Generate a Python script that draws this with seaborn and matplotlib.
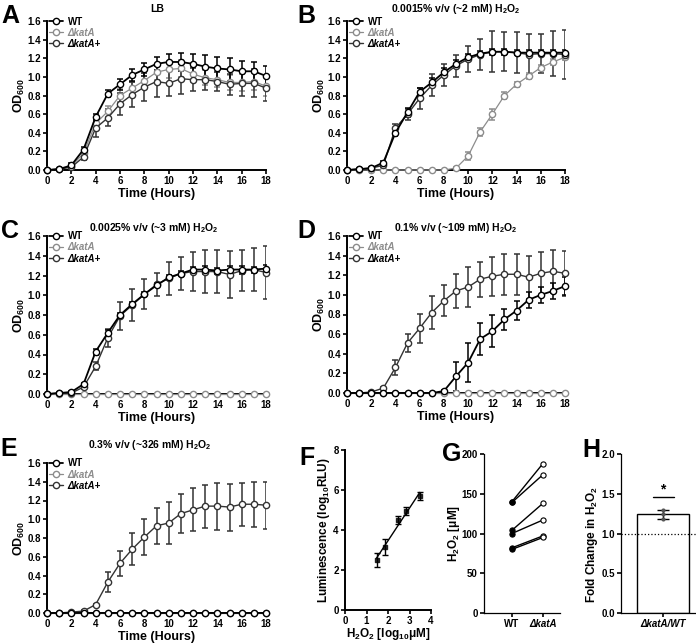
import numpy as np
import pandas as pd
import matplotlib
matplotlib.use("Agg")
import matplotlib.pyplot as plt
import seaborn as sns

# ---- data ----
hours = [0, 1, 2, 3, 4, 5, 6, 7, 8, 9, 10, 11, 12, 13, 14, 15, 16, 17, 18]

# A: LB
lb_wt = [0.00, 0.01, 0.05, 0.22, 0.57, 0.82, 0.92, 1.02, 1.08, 1.14, 1.16, 1.16, 1.14, 1.11, 1.09, 1.08, 1.06, 1.06, 1.01]
lb_wt_sem = [0.00, 0.01, 0.02, 0.03, 0.03, 0.04, 0.06, 0.06, 0.07, 0.07, 0.09, 0.10, 0.11, 0.12, 0.12, 0.12, 0.11, 0.10, 0.11]
lb_ka = [0.00, 0.01, 0.04, 0.18, 0.50, 0.63, 0.80, 0.88, 0.96, 1.05, 1.08, 1.09, 1.03, 0.99, 0.97, 0.94, 0.94, 0.95, 0.90]
lb_ka_sem = [0.00, 0.01, 0.01, 0.03, 0.05, 0.06, 0.07, 0.07, 0.08, 0.08, 0.09, 0.09, 0.08, 0.08, 0.08, 0.08, 0.09, 0.09, 0.10]
lb_kp = [0.00, 0.01, 0.03, 0.14, 0.45, 0.56, 0.71, 0.81, 0.89, 0.95, 0.93, 0.98, 0.97, 0.97, 0.95, 0.92, 0.93, 0.93, 0.88]
lb_kp_sem = [0.00, 0.01, 0.01, 0.03, 0.10, 0.09, 0.12, 0.13, 0.15, 0.17, 0.14, 0.16, 0.12, 0.11, 0.10, 0.11, 0.13, 0.15, 0.14]

# B: 2 mM
b_wt = [0.00, 0.01, 0.02, 0.08, 0.40, 0.62, 0.84, 0.94, 1.05, 1.14, 1.21, 1.25, 1.27, 1.27, 1.26, 1.26, 1.26, 1.26, 1.26]
b_wt_sem = [0.00, 0.01, 0.01, 0.02, 0.04, 0.05, 0.04, 0.05, 0.05, 0.04, 0.04, 0.03, 0.03, 0.03, 0.03, 0.03, 0.03, 0.03, 0.03]
b_ka = [0.00, 0.00, 0.00, 0.00, 0.00, 0.00, 0.00, 0.00, 0.00, 0.02, 0.15, 0.41, 0.60, 0.80, 0.92, 1.01, 1.10, 1.16, 1.21]
b_ka_sem = [0.00, 0.00, 0.00, 0.00, 0.00, 0.00, 0.00, 0.00, 0.00, 0.01, 0.04, 0.04, 0.06, 0.04, 0.03, 0.03, 0.03, 0.03, 0.03]
b_kp = [0.00, 0.01, 0.02, 0.05, 0.45, 0.60, 0.77, 0.91, 1.02, 1.12, 1.19, 1.24, 1.27, 1.27, 1.26, 1.24, 1.25, 1.25, 1.24]
b_kp_sem = [0.00, 0.01, 0.01, 0.02, 0.04, 0.06, 0.11, 0.12, 0.12, 0.12, 0.14, 0.17, 0.22, 0.21, 0.22, 0.22, 0.21, 0.24, 0.26]

# C: 3 mM
c_wt = [0.00, 0.01, 0.02, 0.10, 0.43, 0.62, 0.80, 0.91, 1.01, 1.10, 1.18, 1.22, 1.26, 1.26, 1.25, 1.26, 1.26, 1.26, 1.27]
c_wt_sem = [0.00, 0.01, 0.01, 0.01, 0.03, 0.03, 0.02, 0.02, 0.02, 0.02, 0.03, 0.03, 0.03, 0.04, 0.03, 0.04, 0.04, 0.03, 0.04]
c_ka = [0.00, 0.00, 0.00, 0.00, 0.00, 0.00, 0.00, 0.00, 0.00, 0.00, 0.00, 0.00, 0.00, 0.00, 0.00, 0.00, 0.00, 0.00, 0.00]
c_ka_sem = [0.00, 0.00, 0.00, 0.00, 0.00, 0.00, 0.00, 0.00, 0.00, 0.00, 0.00, 0.00, 0.00, 0.00, 0.00, 0.00, 0.00, 0.00, 0.00]
c_kp = [0.00, 0.01, 0.01, 0.07, 0.28, 0.57, 0.79, 0.90, 1.01, 1.11, 1.17, 1.22, 1.24, 1.24, 1.24, 1.21, 1.25, 1.26, 1.23]
c_kp_sem = [0.00, 0.01, 0.01, 0.02, 0.04, 0.09, 0.14, 0.16, 0.15, 0.12, 0.17, 0.17, 0.20, 0.22, 0.22, 0.24, 0.21, 0.22, 0.27]

# D: 109 mM
d_wt = [0.00, 0.00, 0.00, 0.00, 0.00, 0.00, 0.00, 0.00, 0.02, 0.17, 0.31, 0.55, 0.63, 0.75, 0.84, 0.95, 1.00, 1.04, 1.09]
d_wt_sem = [0.00, 0.00, 0.00, 0.00, 0.00, 0.00, 0.00, 0.00, 0.01, 0.15, 0.20, 0.16, 0.16, 0.11, 0.10, 0.08, 0.08, 0.08, 0.09]
d_ka = [0.00, 0.00, 0.00, 0.00, 0.00, 0.00, 0.00, 0.00, 0.00, 0.00, 0.00, 0.00, 0.00, 0.00, 0.00, 0.00, 0.00, 0.00, 0.00]
d_ka_sem = [0.00, 0.00, 0.00, 0.00, 0.00, 0.00, 0.00, 0.00, 0.00, 0.00, 0.00, 0.00, 0.00, 0.00, 0.00, 0.00, 0.00, 0.00, 0.00]
d_kp = [0.00, 0.00, 0.01, 0.05, 0.26, 0.51, 0.66, 0.82, 0.94, 1.04, 1.08, 1.16, 1.19, 1.21, 1.21, 1.18, 1.22, 1.24, 1.22]
d_kp_sem = [0.00, 0.00, 0.01, 0.01, 0.08, 0.09, 0.15, 0.17, 0.16, 0.17, 0.20, 0.18, 0.20, 0.21, 0.21, 0.22, 0.22, 0.22, 0.23]

# E: 326 mM
e_wt = [0.00, 0.00, 0.00, 0.00, 0.00, 0.00, 0.00, 0.00, 0.00, 0.00, 0.00, 0.00, 0.00, 0.00, 0.00, 0.00, 0.00, 0.00, 0.00]
e_wt_sem = [0.00, 0.00, 0.00, 0.00, 0.00, 0.00, 0.00, 0.00, 0.00, 0.00, 0.00, 0.00, 0.00, 0.00, 0.00, 0.00, 0.00, 0.00, 0.00]
e_ka = [0.00, 0.00, 0.00, 0.00, 0.00, 0.00, 0.00, 0.00, 0.00, 0.00, 0.00, 0.00, 0.00, 0.00, 0.00, 0.00, 0.00, 0.00, 0.00]
e_ka_sem = [0.00, 0.00, 0.00, 0.00, 0.00, 0.00, 0.00, 0.00, 0.00, 0.00, 0.00, 0.00, 0.00, 0.00, 0.00, 0.00, 0.00, 0.00, 0.00]
e_kp = [0.00, 0.00, 0.01, 0.02, 0.09, 0.33, 0.53, 0.68, 0.81, 0.93, 0.96, 1.06, 1.10, 1.14, 1.14, 1.13, 1.16, 1.16, 1.15]
e_kp_sem = [0.00, 0.00, 0.00, 0.01, 0.01, 0.11, 0.13, 0.17, 0.19, 0.19, 0.22, 0.21, 0.23, 0.23, 0.25, 0.25, 0.23, 0.24, 0.25]

# F: standard curve
f_conc = [1.47, 1.85, 2.48, 2.85, 3.48]
f_lum = [2.50, 3.15, 4.50, 4.95, 5.70]
f_sem = [0.35, 0.40, 0.20, 0.20, 0.18]

# G: paired H2O2 measurements
g_wt = [140, 139, 104, 100, 82, 80]
g_ka = [188, 174, 138, 117, 97, 95]

# H: fold change
h_label = "ΔkatA/WT"
h_points = [1.29, 1.25, 1.18]
h_mean = 1.24
h_sem = 0.06

WT_C = "black"
KA_C = "#8c8c8c"
KP_C = "#333333"

sns.set_theme(style="ticks")
plt.rcParams["font.family"] = ["Liberation Sans", "DejaVu Sans"]
plt.rcParams.update({
    "font.weight": "bold",
    "axes.labelweight": "bold",
    "axes.edgecolor": "black",
    "axes.labelcolor": "black",
    "text.color": "black",
    "xtick.color": "black",
    "ytick.color": "black",
    "axes.linewidth": 1.4,
    "xtick.major.width": 1.2,
    "ytick.major.width": 1.2,
    "xtick.major.size": 3,
    "ytick.major.size": 3,
    "xtick.major.pad": 1.5,
    "ytick.major.pad": 1.5,
    "xtick.labelsize": 7,
    "ytick.labelsize": 7,
    "mathtext.fontset": "custom",
    "mathtext.rm": "Liberation Sans:bold",
    "mathtext.bf": "Liberation Sans:bold",
    "mathtext.it": "Liberation Sans:italic:bold",
    "mathtext.default": "bf",
})

W, H = 696, 644
fig = plt.figure(figsize=(W / 100, H / 100), dpi=100)


def px_axes(left, top, right, bottom):
    return fig.add_axes([left / W, 1 - bottom / H, (right - left) / W, (bottom - top) / H])


def growth_panel(ax, wt, wt_sem, ka, ka_sem, kp, kp_sem):
    curves = [("ΔkatA", ka, ka_sem, KA_C, 0.9),
              ("ΔkatA+", kp, kp_sem, KP_C, 1.0),
              ("WT", wt, wt_sem, WT_C, 1.3)]
    for label, mean, sem, color, lw in curves:
        ax.errorbar(hours, mean, yerr=sem, fmt="none", ecolor=color,
                    elinewidth=1.1, capsize=2.2, capthick=1.1, zorder=2)
        sns.lineplot(x=hours, y=mean, ax=ax, color=color, linewidth=lw,
                     marker="o", markersize=4.5, markerfacecolor="white",
                     markeredgecolor=color, markeredgewidth=1.0,
                     errorbar=None, label=label, clip_on=False, zorder=3)
    h, l = ax.get_legend_handles_labels()
    handles = dict(zip(l, h))
    order = ["WT", "ΔkatA", "ΔkatA+"]
    leg = ax.legend([handles[k] for k in order], order, loc="upper left",
                    bbox_to_anchor=(0.01, 1.03), frameon=False, fontsize=7,
                    handlelength=1.4, handletextpad=0.5, labelspacing=0.12,
                    borderpad=0, borderaxespad=0)
    texts = leg.get_texts()
    texts[1].set_style("italic")
    texts[1].set_color(KA_C)
    texts[2].set_style("italic")
    ax.set_xlim(0, 18)
    ax.set_ylim(0, 1.6)
    ax.set_xticks(range(0, 19, 2))
    ax.set_yticks(np.round(np.arange(0, 1.61, 0.2), 1))
    ax.set_yticklabels([f"{v:.1f}" for v in np.arange(0, 1.61, 0.2)])
    ax.set_xlabel("Time (Hours)", fontsize=9, labelpad=1)
    ax.set_ylabel(r"OD$_{600}$", fontsize=9, labelpad=0)
    sns.despine(ax=ax)


def letter(x, y, s):
    fig.text(x / W, 1 - y / H, s, fontsize=18, fontweight="heavy", va="top", ha="left")


def title(x, y, s):
    fig.text(x / W, 1 - y / H, s, fontsize=7.5, fontweight="bold", va="center", ha="center")


# growth curves
axA = px_axes(47, 21, 266, 170)
growth_panel(axA, lb_wt, lb_wt_sem, lb_ka, lb_ka_sem, lb_kp, lb_kp_sem)
axB = px_axes(347, 21, 565, 170)
growth_panel(axB, b_wt, b_wt_sem, b_ka, b_ka_sem, b_kp, b_kp_sem)
axC = px_axes(47, 236, 266, 394)
growth_panel(axC, c_wt, c_wt_sem, c_ka, c_ka_sem, c_kp, c_kp_sem)
axD = px_axes(347, 236, 565, 393)
growth_panel(axD, d_wt, d_wt_sem, d_ka, d_ka_sem, d_kp, d_kp_sem)
axE = px_axes(47, 463, 266, 613)
growth_panel(axE, e_wt, e_wt_sem, e_ka, e_ka_sem, e_kp, e_kp_sem)

title(157, 9, "LB")
title(456, 9, r"0.0015% v/v (~2 mM) H$_2$O$_2$")
title(154, 228, r"0.0025% v/v (~3 mM) H$_2$O$_2$")
title(456, 228, r"0.1% v/v (~109 mM) H$_2$O$_2$")
title(150, 445, r"0.3% v/v (~326 mM) H$_2$O$_2$")

# F: standard curve
axF = px_axes(345, 450, 431, 610)
axF.errorbar(f_conc, f_lum, yerr=f_sem, fmt="none", ecolor="black",
             elinewidth=1.0, capsize=2, capthick=1.0)
sns.regplot(x=f_conc, y=f_lum, ax=axF, ci=None, truncate=True, color="black",
            marker="s", scatter_kws={"s": 8}, line_kws={"linewidth": 1.0})
axF.set_xlim(0, 4)
axF.set_ylim(0, 8)
axF.set_xticks([0, 1, 2, 3, 4])
axF.set_yticks([0, 2, 4, 6, 8])
axF.set_xlabel(r"H$_2$O$_2$ [log$_{10}$μM]", fontsize=8.5, labelpad=0)
axF.set_ylabel(r"Luminescence (log$_{10}$RLU)", fontsize=8.5, labelpad=1)
sns.despine(ax=axF)

# G: paired values
axG = px_axes(484, 454, 560, 613)
g_df = pd.DataFrame({
    "pair": list(range(len(g_wt))) * 2,
    "strain": ["WT"] * len(g_wt) + ["ΔkatA"] * len(g_ka),
    "h2o2": g_wt + g_ka,
})
g_df["pos"] = g_df["strain"].map({"WT": 0, "ΔkatA": 1})
sns.lineplot(data=g_df, x="pos", y="h2o2", units="pair", estimator=None,
             color="black", linewidth=1.0, ax=axG)
sns.scatterplot(data=g_df[g_df.strain == "WT"], x="pos", y="h2o2", ax=axG,
                color="black", s=14, edgecolor="black", linewidth=0.8, zorder=3)
sns.scatterplot(data=g_df[g_df.strain == "ΔkatA"], x="pos", y="h2o2", ax=axG,
                color="white", s=14, edgecolor="black", linewidth=0.8, zorder=3)
axG.set_xlim(-0.9, 1.55)
axG.set_ylim(0, 200)
axG.set_xticks([0, 1])
axG.set_xticklabels(["WT", "ΔkatA"])
axG.get_xticklabels()[1].set_style("italic")
axG.set_yticks([0, 50, 100, 150, 200])
axG.set_xlabel("")
axG.set_ylabel(r"H$_2$O$_2$ [μM]", fontsize=8.5, labelpad=0)
for s in ["left", "bottom"]:
    axG.spines[s].set_linewidth(0.9)
sns.despine(ax=axG)

# H: fold change
axH = px_axes(621, 454, 700, 613)
h_df = pd.DataFrame({"group": [h_label] * len(h_points), "fold": h_points})
sns.barplot(x=[h_label], y=[h_mean], ax=axH, color="white", edgecolor="black",
            linewidth=1.0, width=0.7)
axH.errorbar([0], [h_mean], yerr=[h_sem], fmt="none", ecolor="black",
             elinewidth=1.0, capsize=4, capthick=1.0, zorder=3)
sns.stripplot(data=h_df, x="group", y="fold", ax=axH, color="#555555", size=3,
              jitter=False, zorder=4)
axH.axhline(1.0, color="black", linestyle=":", linewidth=0.9, zorder=1)
axH.plot([-0.14, 0.14], [1.46, 1.46], color="black", linewidth=1.0)
axH.text(0, 1.47, "*", ha="center", va="bottom", fontsize=10, fontweight="bold")
axH.set_xlim(-0.56, 0.49)
axH.set_ylim(0, 2)
axH.set_yticks([0, 0.5, 1.0, 1.5, 2.0])
axH.set_yticklabels(["0.0", "0.5", "1.0", "1.5", "2.0"])
axH.get_xticklabels()[0].set_style("italic")
axH.set_xlabel("")
axH.set_ylabel(r"Fold Change in H$_2$O$_2$", fontsize=8.5, labelpad=3)
axH.yaxis.set_label_coords(-0.27, 0.43)
for s in ["left", "bottom"]:
    axH.spines[s].set_linewidth(0.9)
sns.despine(ax=axH)

letter(1, 4, "A")
letter(297, 4, "B")
letter(1, 219, "C")
letter(297, 219, "D")
letter(0, 437, "E")
letter(299, 446, "F")
letter(442, 442, "G")
letter(582, 438, "H")

fig.savefig("out.png", dpi=100)
